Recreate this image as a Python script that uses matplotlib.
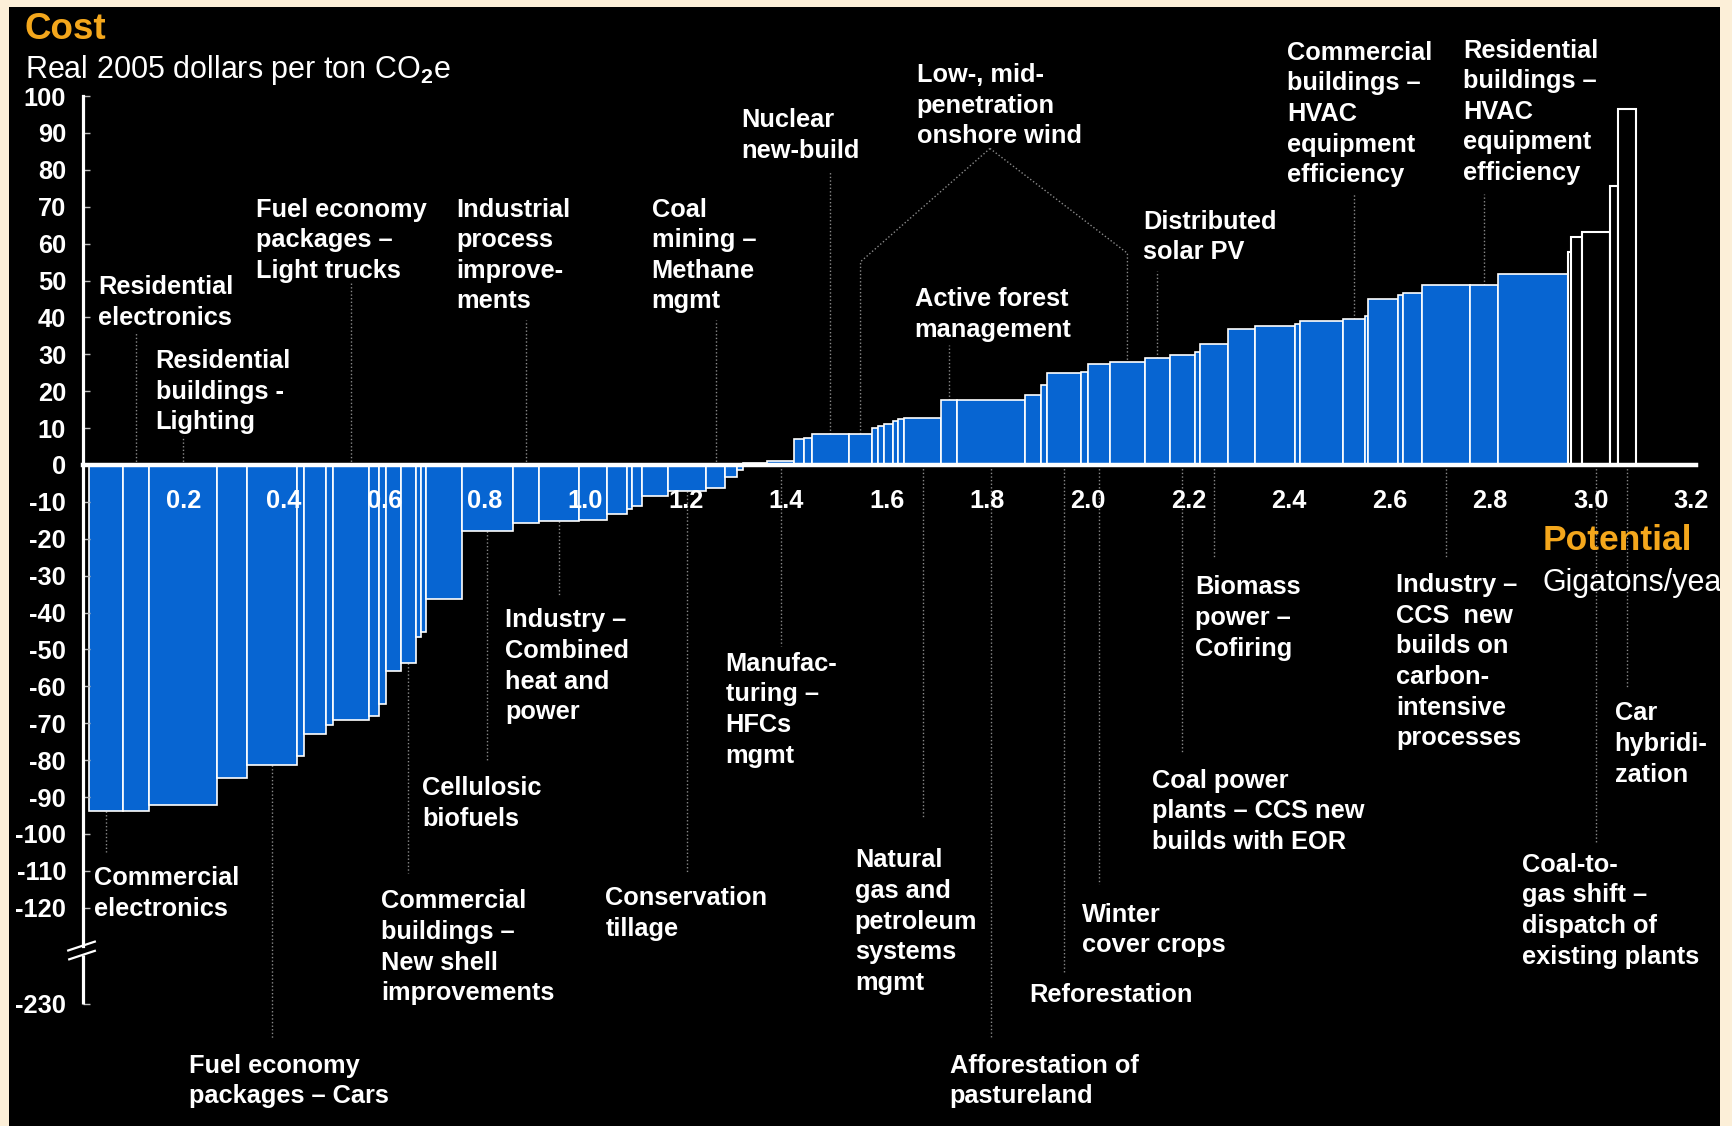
import matplotlib
matplotlib.use("Agg")
import matplotlib.pyplot as plt

plt.rcParams['font.family'] = ['Liberation Sans', 'DejaVu Sans']
plt.rcParams['font.weight'] = 'bold'
plt.rcParams['mathtext.fontset'] = 'custom'
plt.rcParams['mathtext.rm'] = 'Liberation Sans'
plt.rcParams['mathtext.it'] = 'Liberation Sans:italic'
plt.rcParams['mathtext.bf'] = 'Liberation Sans:bold'

# ---------------------------------------------------------------- data
# Abatement levers ordered by cost: potential (Gt CO2e / year) and cost ($ / t CO2e)
potential_saving = [0.068, 0.052, 0.135, 0.060, 0.100, 0.013, 0.043, 0.014, 0.072, 0.021,
                    0.013, 0.030, 0.029, 0.011, 0.010, 0.072, 0.100, 0.052, 0.081, 0.055,
                    0.039, 0.010, 0.021, 0.052, 0.075, 0.038, 0.023, 0.013]
cost_saving = [-93.8, -93.8, -92.3, -84.8, -81.2, -78.9, -72.8, -70.4, -69.2, -68.0,
               -64.8, -55.9, -53.6, -46.5, -45.3, -36.3, -18.0, -15.8, -15.2, -15.0,
               -13.4, -12.0, -11.0, -8.4, -7.1, -6.2, -3.2, -1.3]

potential_cost = [0.048, 0.054, 0.019, 0.015, 0.074, 0.047, 0.012, 0.012, 0.017, 0.010,
                  0.012, 0.074, 0.031, 0.135, 0.033, 0.011, 0.068, 0.014, 0.044, 0.069,
                  0.050, 0.050, 0.010, 0.056, 0.053, 0.080, 0.010, 0.086, 0.043, 0.007,
                  0.059, 0.010, 0.037, 0.096, 0.056, 0.139]
cost_cost = [0.5, 1.0, 7.1, 7.2, 8.3, 8.5, 10.0, 10.6, 11.0, 11.8,
             12.5, 12.8, 17.6, 17.6, 19.1, 21.7, 25.0, 25.3, 27.4, 28.0,
             28.9, 29.9, 30.6, 32.8, 37.0, 37.6, 38.3, 39.0, 39.6, 40.3,
             44.9, 46.0, 46.6, 48.9, 48.9, 51.8]

# levers above $50/t, drawn as outlines
potential_high = [0.007, 0.020, 0.056, 0.017, 0.036]
cost_high = [57.7, 61.8, 63.1, 75.7, 96.5]

curve_start = 0.012

y_ticks = [100, 90, 80, 70, 60, 50, 40, 30, 20, 10, 0, -10, -20, -30, -40, -50,
           -60, -70, -80, -90, -100, -110, -120]
y_break_label = "-230"
x_ticks = [0.2, 0.4, 0.6, 0.8, 1.0, 1.2, 1.4, 1.6, 1.8, 2.0, 2.2, 2.4, 2.6, 2.8, 3.0, 3.2]

# named levers and the bar each one points to
lever_names = [
    "Residential\nelectronics",
    "Residential\nbuildings -\nLighting",
    "Fuel economy\npackages \u2013\nLight trucks",
    "Industrial\nprocess\nimprove-\nments",
    "Coal\nmining \u2013\nMethane\nmgmt",
    "Nuclear\nnew-build",
    "Active forest\nmanagement",
    "Distributed\nsolar PV",
    "Commercial\nbuildings \u2013\nHVAC\nequipment\nefficiency",
    "Residential\nbuildings \u2013\nHVAC\nequipment\nefficiency",
    "Commercial\nelectronics",
    "Fuel economy\npackages \u2013 Cars",
    "Commercial\nbuildings \u2013\nNew shell\nimprovements",
    "Cellulosic\nbiofuels",
    "Industry \u2013\nCombined\nheat and\npower",
    "Conservation\ntillage",
    "Manufac-\nturing \u2013\nHFCs\nmgmt",
    "Natural\ngas and\npetroleum\nsystems\nmgmt",
    "Afforestation of\npastureland",
    "Reforestation",
    "Winter\ncover crops",
    "Biomass\npower \u2013\nCofiring",
    "Coal power\nplants \u2013 CCS new\nbuilds with EOR",
    "Industry \u2013\nCCS  new\nbuilds on\ncarbon-\nintensive\nprocesses",
    "Coal-to-\ngas shift \u2013\ndispatch of\nexisting plants",
    "Car\nhybridi-\nzation",
]
lever_bar = [1, 2, 8, 17, 25, 32, 40, 48, 56, 62, 0, 4, 12, 16, 18, 24, 29, 39,
             41, 44, 46, 51, 49, 61, 66, 68]

wind_name = "Low-, mid-\npenetration\nonshore wind"
wind_bars = [33, 47]

# ---------------------------------------------------------------- layout
# text anchor (left, top) and the end of each leader line, in data units
label_layout = [
    (0.031, 51.5, 36.0), (0.145, 31.4, 7.8), (0.345, 72.5, 49.4), (0.743, 72.5, 39.2),
    (1.132, 72.5, 39.2), (1.310, 96.7, 79.6), (1.655, 48.2, 32.6), (2.110, 69.2, 52.7),
    (2.396, 115.0, 73.4), (2.747, 115.6, 73.4),
    (0.022, -108.7, -105.0), (0.211, -159.6, -155.4), (0.593, -115.0, -110.5),
    (0.675, -84.4, -80.5), (0.840, -38.9, -35.6), (1.040, -114.1, -110.5),
    (1.279, -50.6, -49.1), (1.536, -103.9, -95.5), (1.725, -159.6, -155.4),
    (1.884, -140.4, -137.4), (1.989, -118.6, -113.5), (2.213, -29.9, -25.1),
    (2.127, -82.3, -78.1), (2.613, -29.3, -25.1), (2.864, -105.1, -102.1),
    (3.048, -64.1, -60.2),
]
wind_text = (1.659, 109.0)
wind_apex = (1.805, 85.8)
wind_corner_y = [55.1, 57.4]

BEIGE = '#FCEFD8'
BLUE = '#0765D2'
ORANGE = '#F4A71C'
LEADER = dict(color='#8a8a8a', lw=1.0, linestyle=(0, (1, 1.6)), zorder=0.8)
FS = 18.3
LS = 1.35

W, H = 1732, 1126
fig = plt.figure(figsize=(W / 100, H / 100), dpi=100, facecolor=BEIGE)
ax = fig.add_axes([9 / W, 0, (1720 - 9) / W, 1 - 7 / H])
ax.set_facecolor('black')
ax.set_xlim(-0.1468, 3.2575)
ax.set_ylim(-179.18, 124.15)

# ---------------------------------------------------------------- bars
widths = potential_saving + potential_cost + potential_high
costs = cost_saving + cost_cost + cost_high
lefts = []
pos = curve_start
for w in widths:
    lefts.append(pos)
    pos += w
n_blue = len(potential_saving) + len(potential_cost)

ax.bar(lefts[:n_blue], costs[:n_blue], width=widths[:n_blue], align='edge',
       color=BLUE, edgecolor='white', linewidth=1.2, zorder=1)
ax.bar(lefts[n_blue:], costs[n_blue:], width=widths[n_blue:], align='edge',
       color='black', edgecolor='white', linewidth=1.5, zorder=1)

centers = [l + w / 2 for l, w in zip(lefts, widths)]

# ---------------------------------------------------------------- axes
for side in ('top', 'right'):
    ax.spines[side].set_visible(False)
ax.spines['bottom'].set_position(('data', 0))
ax.spines['bottom'].set_bounds(0, 3.21)
ax.spines['bottom'].set_color('white')
ax.spines['bottom'].set_linewidth(3.2)
ax.spines['left'].set_position(('data', 0))
ax.spines['left'].set_bounds(-130.4, 100)
ax.spines['left'].set_color('white')
ax.spines['left'].set_linewidth(2.3)

# lower piece of the broken cost axis, with the break marks
y_break_pos = -146
ax.plot([0, 0], [-132.9, y_break_pos], color='white', lw=2.3, solid_capstyle='butt',
        zorder=2.5, clip_on=False)
ax.plot([-0.029, 0.024], [-131.6, -129.2], color='white', lw=1.6, zorder=2.6)
ax.plot([-0.027, 0.024], [-134.0, -131.7], color='white', lw=1.6, zorder=2.6)

ax.set_yticks(y_ticks + [y_break_pos])
ax.set_yticklabels([str(v) for v in y_ticks] + [y_break_label])
ax.tick_params(axis='y', direction='in', length=5, width=1, color='#bdbdbd',
               labelcolor='white', labelsize=FS, pad=12)
ax.set_xticks(x_ticks)
ax.set_xticklabels([f"{v:.1f}" for v in x_ticks])
ax.tick_params(axis='x', length=0, labelcolor='white', labelsize=FS, pad=17)

# ---------------------------------------------------------------- lever labels
for name, bar, (tx, ty, lead) in zip(lever_names, lever_bar, label_layout):
    c = costs[bar]
    anchor = max(c, 0) if lead > 0 else min(c, 0)
    ax.plot([centers[bar], centers[bar]], [anchor, lead], **LEADER)
    ax.text(tx, ty, name, color='white', fontsize=FS, ha='left', va='top',
            linespacing=LS, zorder=3)

# wind: one label pointing at two bars
ax.text(wind_text[0], wind_text[1], wind_name, color='white', fontsize=FS,
        ha='left', va='top', linespacing=LS, zorder=3)
for b, cy in zip(wind_bars, wind_corner_y):
    ax.plot([wind_apex[0], centers[b], centers[b]], [wind_apex[1], cy, costs[b]], **LEADER)

# ---------------------------------------------------------------- titles
fig.text(25 / W, 1 - 12 / H, "Cost", color=ORANGE, fontsize=26.5, ha='left', va='top')
fig.text(25 / W, 1 - 53 / H, "Real 2005 dollars per ton CO$_2$e", color='white',
         fontsize=22, fontweight='normal', ha='left', va='top')
ax.text(2.905, -15.9, "Potential", color=ORANGE, fontsize=25.5, ha='left', va='top',
        zorder=3)
ax.text(2.905, -27.8, "Gigatons/year", color='white', fontsize=22, fontweight='normal',
        ha='left', va='top', zorder=3, clip_on=True)

fig.savefig("out.png", dpi=100, facecolor=BEIGE)
